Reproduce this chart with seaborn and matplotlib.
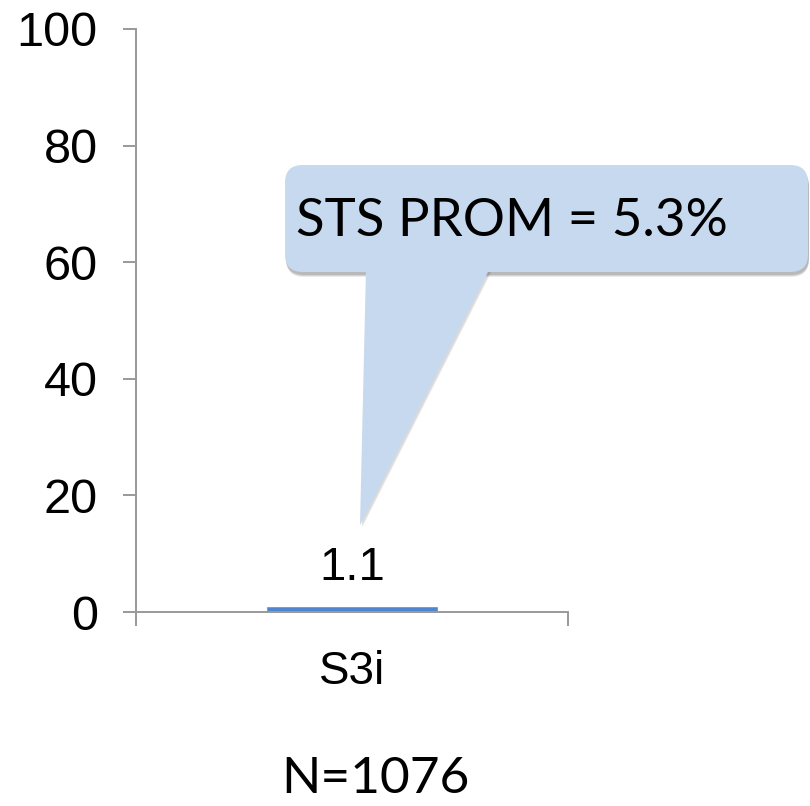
import matplotlib
matplotlib.use("Agg")
import matplotlib.pyplot as plt
import seaborn as sns
import pandas as pd
from matplotlib.patches import FancyBboxPatch, Polygon

categories = ["S3i"]
values = [1.1]
y_ticks = [0, 20, 40, 60, 80, 100]
callout_text = "STS PROM = 5.3%"
n_text = "N=1076"

sns.set_theme(style="white")
plt.rcParams["font.family"] = ["Liberation Sans", "DejaVu Sans"]
plt.rcParams["text.color"] = "black"
plt.rcParams["xtick.labelcolor"] = "black"
plt.rcParams["ytick.labelcolor"] = "black"

W, H = 810, 806
fig = plt.figure(figsize=(W / 100, H / 100), dpi=100)
ax = fig.add_axes([136 / W, 1 - 612 / H, (568 - 136) / W, (612 - 29) / H])

df = pd.DataFrame({"cat": categories, "val": values})
sns.barplot(data=df, x="cat", y="val", color="#4F86CF", width=0.4,
            saturation=1, ax=ax)
ax.bar_label(ax.containers[0], fmt="%.1f", fontsize=34, padding=11,
             color="black")

ax.set_xlim(-0.5, 0.5)
ax.set_ylim(0, 100)
ax.set_yticks(y_ticks)
ax.set_xlabel("")
ax.set_ylabel("")

axis_grey = "#999999"
for side in ["top", "right"]:
    ax.spines[side].set_visible(False)
for side in ["left", "bottom"]:
    ax.spines[side].set_color(axis_grey)
    ax.spines[side].set_linewidth(1.4)

ax.tick_params(axis="y", direction="out", length=9.5, width=1.4,
               color=axis_grey, labelsize=35, pad=18, left=True,
               labelcolor="black")
ax.tick_params(axis="x", which="major", length=0, labelsize=33, pad=27,
               bottom=True, labelcolor="black")
ax.set_xticks([-0.5, 0.5], minor=True)
ax.tick_params(axis="x", which="minor", direction="out", length=10,
               width=1.4, color=axis_grey, bottom=True)


def fx(px):
    return px / W


def fy(py):
    return 1 - py / H


fill = "#C6D9EF"
box = dict(x0=285, y0=165, x1=808, y1=272)
pointer = [(366, 268), (490, 268), (360, 525)]

# soft shadow below the callout
for off, alpha in [(5, 0.08), (4, 0.10), (3, 0.12)]:
    fig.patches.append(FancyBboxPatch(
        (fx(box["x0"] + 1), fy(box["y1"] + off)),
        fx(box["x1"] - box["x0"]), (box["y1"] - box["y0"]) / H,
        boxstyle="round,pad=0,rounding_size=0.022",
        transform=fig.transFigure, facecolor="black", edgecolor="none",
        alpha=alpha, zorder=1))
    fig.patches.append(Polygon(
        [(fx(x + off * 0.5), fy(y + off * 0.5)) for x, y in pointer],
        closed=True, transform=fig.transFigure, facecolor="black",
        edgecolor="none", alpha=alpha * 0.5, zorder=1))

fig.patches.append(FancyBboxPatch(
    (fx(box["x0"]), fy(box["y1"])),
    fx(box["x1"] - box["x0"]), (box["y1"] - box["y0"]) / H,
    boxstyle="round,pad=0,rounding_size=0.022",
    transform=fig.transFigure, facecolor=fill, edgecolor="none", zorder=2))
fig.patches.append(Polygon(
    [(fx(x), fy(y)) for x, y in pointer], closed=True,
    transform=fig.transFigure, facecolor=fill, edgecolor="none", zorder=2))

fig.text(fx(512), fy(222), callout_text, ha="center", va="center",
         fontsize=38, family=["Lato", "DejaVu Sans"], color="black", zorder=3)
fig.text(fx(375), fy(779), n_text, ha="center", va="center",
         fontsize=37, family=["Lato", "DejaVu Sans"], color="black")

fig.savefig("out.png", dpi=100)
